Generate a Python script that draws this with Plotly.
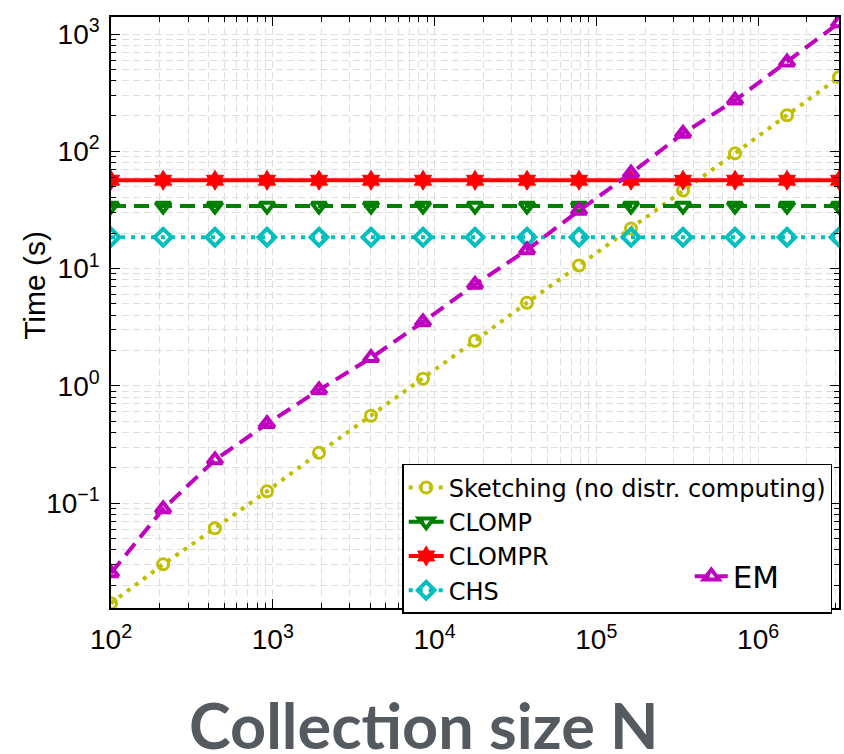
import plotly.graph_objects as go

# Collection sizes N
N = [100, 210, 439, 921, 1931, 4047, 8483, 17783, 37276, 78137,
     163789, 343332, 719686, 1508591, 3162278]

sketching = [0.014, 0.030, 0.061, 0.126, 0.268, 0.555, 1.15, 2.42, 5.1, 10.6,
             21.9, 46.2, 96, 203, 428]
clomp = [34.2] * 15
clompr = [56.6] * 15
chs = [18.5] * 15
em = [0.0253, 0.089, 0.233, 0.474, 0.92, 1.73, 3.5, 7.3, 14.4, 31.2,
      64.9, 142, 272, 574, 1241]

x_tick_vals = [1e2, 1e3, 1e4, 1e5, 1e6]
x_tick_text = ["10<sup>2</sup>", "10<sup>3</sup>", "10<sup>4</sup>", "10<sup>5</sup>", "10<sup>6</sup>"]
y_tick_vals = [1e-1, 1e0, 1e1, 1e2, 1e3]
y_tick_text = ["10<sup>\u22121</sup>", "10<sup>0</sup>", "10<sup>1</sup>", "10<sup>2</sup>", "10<sup>3</sup>"]

FONT = "Liberation Sans, Arial, sans-serif"

fig = go.Figure()

def add(name, y, color, dash, symbol, size, lw=3, legend="legend"):
    fig.add_trace(go.Scatter(
        x=N, y=y, name=name, mode="lines+markers",
        line=dict(color=color, width=4, dash=dash),
        marker=dict(symbol=symbol, size=size, color=color,
                    line=dict(color=color, width=lw)),
        legend=legend,
    ))

add("Sketching (no distr. computing)", sketching, "#bfbf00", "4px,6px", "circle-open", 11)
add("CLOMP", clomp, "#008000", "15px,8px", "triangle-down-open", 13, lw=4)
add("CLOMPR", clompr, "#ff0000", "solid", "hexagram", 15, lw=1)
add("CHS", chs, "#00bfbf", "4px,6px", "diamond-open", 13, lw=4)
add("EM", em, "#bf00bf", "15px,8px", "triangle-up-open", 13, lw=4, legend="legend2")

grid = "#dedede"
axis_common = dict(
    type="log", showline=True, linecolor="black", linewidth=1.5, mirror="allticks",
    ticks="inside", ticklen=9, tickcolor="black", tickwidth=1,
    tickmode="array",
    showgrid=True, gridcolor=grid, griddash="7px,4px", gridwidth=1,
    tickfont=dict(family=FONT, size=28, color="black"),
    zeroline=False,
    minor=dict(ticks="inside", ticklen=5, tickcolor="black", dtick="D1", tick0=0,
               showgrid=True, gridcolor=grid, griddash="7px,4px", gridwidth=1),
)

fig.update_xaxes(range=[2, 6.5], tickvals=x_tick_vals, ticktext=x_tick_text,
                 ticklabelstandoff=6, **axis_common)
fig.update_yaxes(range=[-1.895, 3.145], tickvals=y_tick_vals, ticktext=y_tick_text,
                 ticklabelstandoff=4, **axis_common)

fig.update_layout(
    width=844, height=754,
    margin=dict(l=111, r=3, t=17, b=146),
    paper_bgcolor="white", plot_bgcolor="white",
    font=dict(family=FONT, color="black"),
    showlegend=True,
    legend=dict(x=0.4, y=0.2437, xanchor="left", yanchor="top",
                bgcolor="white", bordercolor="black", borderwidth=1.5,
                font=dict(family="DejaVu Sans", size=24, color="black"),
                tracegroupgap=0, itemwidth=35),
    legend2=dict(x=0.795, y=0.099, xanchor="left", yanchor="top",
                 bgcolor="rgba(0,0,0,0)", borderwidth=0,
                 font=dict(family="DejaVu Sans", size=31, color="black"),
                 itemwidth=33),
    annotations=[
        dict(text="Time (s)", xref="paper", yref="paper",
             x=-0.106, y=0.5465, xanchor="center", yanchor="middle",
             textangle=-90, showarrow=False,
             font=dict(family=FONT, size=30, color="black")),
        dict(text="<b>Collection size N</b>", xref="paper", yref="paper",
             x=0.43, y=-0.197, xanchor="center", yanchor="middle",
             showarrow=False,
             font=dict(family="Lato", size=63, color="#555a60")),
    ],
)

fig.write_html("out.html")
